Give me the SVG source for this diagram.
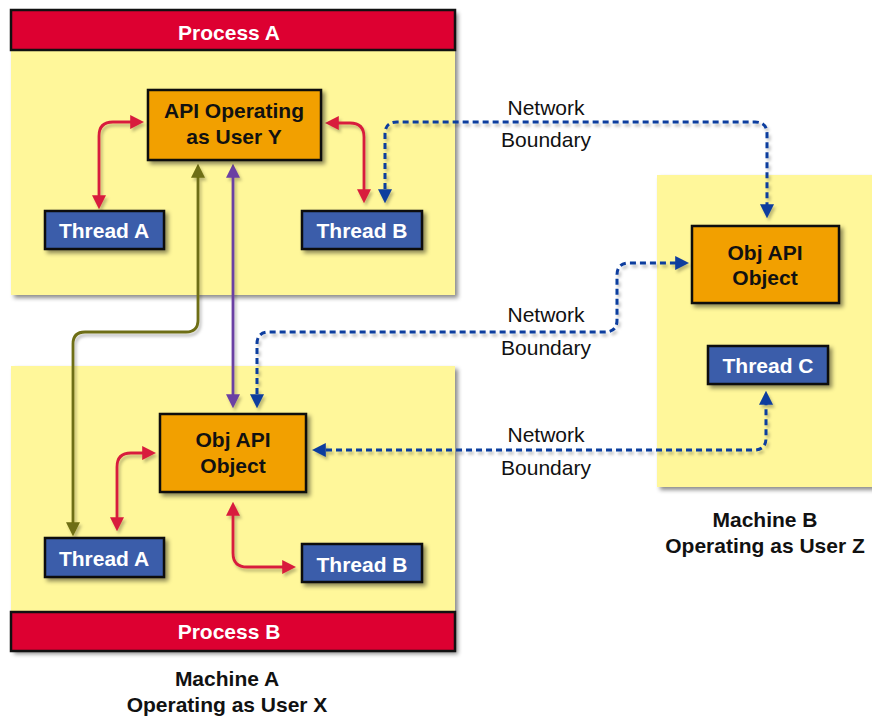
<svg xmlns="http://www.w3.org/2000/svg" width="872" height="717" viewBox="0 0 872 717">
<defs>
<filter id="sh" x="-10%" y="-10%" width="130%" height="140%">
<feDropShadow dx="3" dy="3" stdDeviation="2" flood-color="#000" flood-opacity="0.45"/>
</filter>
<filter id="lsh" x="-10%" y="-10%" width="130%" height="130%">
<feDropShadow dx="2" dy="3" stdDeviation="1.5" flood-color="#000" flood-opacity="0.25"/>
</filter>
<marker id="mr" viewBox="0 0 10 10" refX="7" refY="5" markerWidth="14" markerHeight="14" markerUnits="userSpaceOnUse" orient="auto-start-reverse"><path d="M0,0 L10,5 L0,10 z" fill="#D81E3C"/></marker>
<marker id="mb" viewBox="0 0 10 10" refX="7" refY="5" markerWidth="14" markerHeight="14" markerUnits="userSpaceOnUse" orient="auto-start-reverse"><path d="M0,0 L10,5 L0,10 z" fill="#0B3C9E"/></marker>
<marker id="mo" viewBox="0 0 10 10" refX="7" refY="5" markerWidth="14" markerHeight="14" markerUnits="userSpaceOnUse" orient="auto-start-reverse"><path d="M0,0 L10,5 L0,10 z" fill="#6E6E12"/></marker>
<marker id="mp" viewBox="0 0 10 10" refX="7" refY="5" markerWidth="14" markerHeight="14" markerUnits="userSpaceOnUse" orient="auto-start-reverse"><path d="M0,0 L10,5 L0,10 z" fill="#6B3FA3"/></marker>
</defs>
<style>
.panel{fill:#FFF79A;filter:url(#sh)}
.hdr{fill:#DD0031;stroke:#111;stroke-width:2.5}
.api{fill:#F2A000;stroke:#111;stroke-width:2.5;filter:url(#sh)}
.thr{fill:#3A5DAA;stroke:#111;stroke-width:2.5;filter:url(#sh)}
text{font-family:"Liberation Sans",Arial,sans-serif;font-size:21px;text-anchor:middle}
.b{font-weight:bold}
.w{fill:#fff;font-weight:bold}
.k{fill:#111}
.c{fill:none;stroke-width:2.8}
.red{stroke:#D81E3C;marker-start:url(#mr);marker-end:url(#mr)}
.blu{stroke:#0B3C9E;stroke-width:3;stroke-dasharray:6 4;marker-start:url(#mb);marker-end:url(#mb)}
.olv{stroke:#6E6E12;marker-start:url(#mo);marker-end:url(#mo)}
.pur{stroke:#6B3FA3;marker-start:url(#mp);marker-end:url(#mp)}
</style>
<rect width="872" height="717" fill="#fff"/>

<g id="processA">
<rect class="panel" x="11" y="10" width="444" height="285"/>
<rect class="hdr" x="11" y="10" width="444" height="40"/>
<text class="w" x="229" y="40">Process A</text>
</g>
<g id="processB">
<rect class="panel" x="11" y="366" width="444" height="285"/>
<rect class="hdr" x="11" y="612" width="444" height="39"/>
<text class="w" x="229" y="639">Process B</text>
</g>
<g id="machineB">
<rect class="panel" x="657" y="175" width="230" height="312"/>
</g>
<g id="labels">
<text class="b k" x="227" y="686">Machine A</text>
<text class="b k" x="227" y="712">Operating as User X</text>
<text class="b k" x="765" y="527">Machine B</text>
<text class="b k" x="765" y="553">Operating as User Z</text>
<text class="k" x="546" y="115">Network</text>
<text class="k" x="546" y="147">Boundary</text>
<text class="k" x="546" y="322">Network</text>
<text class="k" x="546" y="355">Boundary</text>
<text class="k" x="546" y="442">Network</text>
<text class="k" x="546" y="475">Boundary</text>
</g>

<g id="connectors" filter="url(#lsh)">
<path class="c red" d="M99,205 V136 Q99,122 113,122 H140"/>
<path class="c red" d="M329,123 H350 Q364,123 364,137 V199"/>
<path class="c blu" d="M385,199 V134 Q385,122 397,122 H755 Q767,122 767,134 V214"/>
<path class="c olv" d="M198,168 V320 Q198,332 186,332 H85 Q73,332 73,344 V532"/>
<path class="c pur" d="M233,168 V404"/>
<path class="c blu" d="M257,404 V344 Q257,332 269,332 H605 Q617,332 617,320 V275 Q617,263 629,263 H685"/>
<path class="c blu" d="M316,450 H754 Q766,450 766,438 V395"/>
<path class="c red" d="M117,527 V467 Q117,453 131,453 H152"/>
<path class="c red" d="M233,506 V553 Q233,567 247,567 H292"/>
</g>

<g id="apiY">
<rect class="api" x="148" y="90" width="173" height="70"/>
<text class="b k" x="234" y="118">API Operating</text>
<text class="b k" x="234" y="144">as User Y</text>
</g>
<g id="threadA1">
<rect class="thr" x="45" y="211" width="119" height="38"/>
<text class="w" x="104" y="238">Thread A</text>
</g>
<g id="threadB1">
<rect class="thr" x="302" y="211" width="120" height="38"/>
<text class="w" x="362" y="238">Thread B</text>
</g>
<g id="objA">
<rect class="api" x="160" y="414" width="146" height="78"/>
<text class="b k" x="233" y="447">Obj API</text>
<text class="b k" x="233" y="473">Object</text>
</g>
<g id="threadA2">
<rect class="thr" x="45" y="538" width="119" height="39"/>
<text class="w" x="104" y="566">Thread A</text>
</g>
<g id="threadB2">
<rect class="thr" x="302" y="544" width="120" height="38"/>
<text class="w" x="362" y="572">Thread B</text>
</g>
<g id="objB">
<rect class="api" x="692" y="226" width="147" height="77"/>
<text class="b k" x="765" y="260">Obj API</text>
<text class="b k" x="765" y="285">Object</text>
</g>
<g id="threadC">
<rect class="thr" x="708" y="346" width="120" height="38"/>
<text class="w" x="768" y="373">Thread C</text>
</g>
</svg>
